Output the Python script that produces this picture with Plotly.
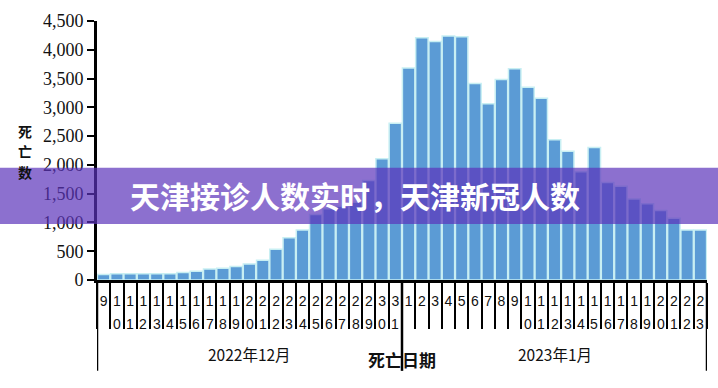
import plotly.graph_objects as go

# ---- data ----
dates = ([f"2022-12-{d:02d}" for d in range(9, 32)] +
         [f"2023-01-{d:02d}" for d in range(1, 24)])
deaths = [95, 110, 110, 110, 110, 110, 130, 150, 190, 205, 235, 280, 345, 535,
          735, 870, 1140, 1240, 1280, 1350, 1730, 2105, 2725,
          3682, 4210, 4143, 4238, 4227, 3412, 3063, 3485, 3670, 3350, 3159,
          2438, 2236, 1882, 2303, 1696, 1628, 1409, 1325, 1207, 1072, 869, 869]
day_nums = [int(s[-2:]) for s in dates]
top_digits = [str(d)[0] for d in day_nums]
bottom_digits = [str(d)[1] if d >= 10 else "" for d in day_nums]
month_labels = ["2022年12月", "2023年1月"]
y_title_chars = ["死", "亡", "数"]
y_ticks = list(range(0, 4501, 500))
banner_text = "天津接诊人数实时，天津新冠人数"

W, H = 718, 388
ML, MR, MT, MB = 97, 11, 14, 388 - 280.5
PW, PH = W - ML - MR, H - MT - MB

def py(px):  # page pixel y -> paper y
    return (H - MB - px) / PH

def pxx(px):  # page pixel x -> paper x
    return (px - ML) / PW

fig = go.Figure()
fig.add_trace(go.Bar(
    x=dates, y=deaths,
    marker=dict(color="#5B9BD5", line=dict(color="#c8eff3", width=1.5)),
    hoverinfo="skip",
))

annotations = []
for d, b in zip(dates, bottom_digits):
    if b:
        annotations.append(dict(x=d, xref="x", y=py(325.5), yref="paper",
                                text=b, showarrow=False, xanchor="center", yanchor="middle",
                                font=dict(family="Liberation Sans", size=14, color="#111")))

annotations.append(dict(x=dates[11], xref="x", y=py(357), yref="paper",
                        text=month_labels[0], showarrow=False, xanchor="center", yanchor="middle",
                        font=dict(family="Noto Sans CJK SC", size=15.5, color="#111")))
annotations.append(dict(x=dates[34], xref="x", y=py(357), yref="paper",
                        text=month_labels[1], showarrow=False, xanchor="center", yanchor="middle",
                        font=dict(family="Noto Sans CJK SC", size=15.5, color="#111")))
annotations.append(dict(x=22.5, xref="x", y=py(362), yref="paper",
                        text="<b>死亡日期</b>", showarrow=False, xanchor="center", yanchor="middle",
                        font=dict(family="Noto Sans CJK SC", size=17, color="#111")))
for i, ch in enumerate(y_title_chars):
    annotations.append(dict(x=pxx(25), xref="paper", y=py(127 + 21 * i), yref="paper",
                            text=f"<b>{ch}</b>", showarrow=False,
                            xanchor="center", yanchor="middle",
                            font=dict(family="Noto Sans CJK SC", size=14, color="#111")))
annotations.append(dict(x=pxx(355), xref="paper", y=py(193), yref="paper",
                        text=f"<b>{banner_text}</b>", showarrow=False,
                        xanchor="center", yanchor="middle",
                        font=dict(family="Noto Sans CJK SC", size=30, color="white")))

shapes = []
for xb in (-0.5, 22.5, 45.5):
    shapes.append(dict(type="line", xref="x", yref="paper", x0=xb, x1=xb,
                       y0=0, y1=py(374), line=dict(color="black", width=2.5)))
shapes.append(dict(type="rect", xref="paper", yref="paper",
                   x0=pxx(0), x1=pxx(718), y0=py(223), y1=py(165),
                   fillcolor="rgba(91,51,186,0.7)", line=dict(width=0), layer="above"))

fig.update_layout(
    width=W, height=H,
    margin=dict(l=ML, r=MR, t=MT, b=MB, pad=0),
    paper_bgcolor="white", plot_bgcolor="white",
    showlegend=False, bargap=0.06,
    annotations=annotations, shapes=shapes,
    xaxis=dict(type="category", showline=True, linecolor="black", linewidth=2.5,
               ticks="outside", tickson="boundaries", ticklen=46, tickwidth=2,
               tickcolor="black", tickvals=dates, ticktext=top_digits,
               tickangle=0, ticklabelstandoff=6,
               tickfont=dict(family="Liberation Sans", size=14, color="#111"),
               showgrid=False, zeroline=False, range=[-0.5, 45.5]),
    yaxis=dict(range=[0, 4500], tickvals=y_ticks, tickformat=",",
               showline=True, linecolor="black", linewidth=3,
               ticks="outside", ticklen=7, tickwidth=2, tickcolor="black",
               tickfont=dict(family="Liberation Serif", size=18, color="#111"),
               showgrid=False, zeroline=False),
)

fig.write_html("out.html",
               config={"displayModeBar": False},
               post_script="document.body.style.margin='0';document.body.style.padding='0';")
